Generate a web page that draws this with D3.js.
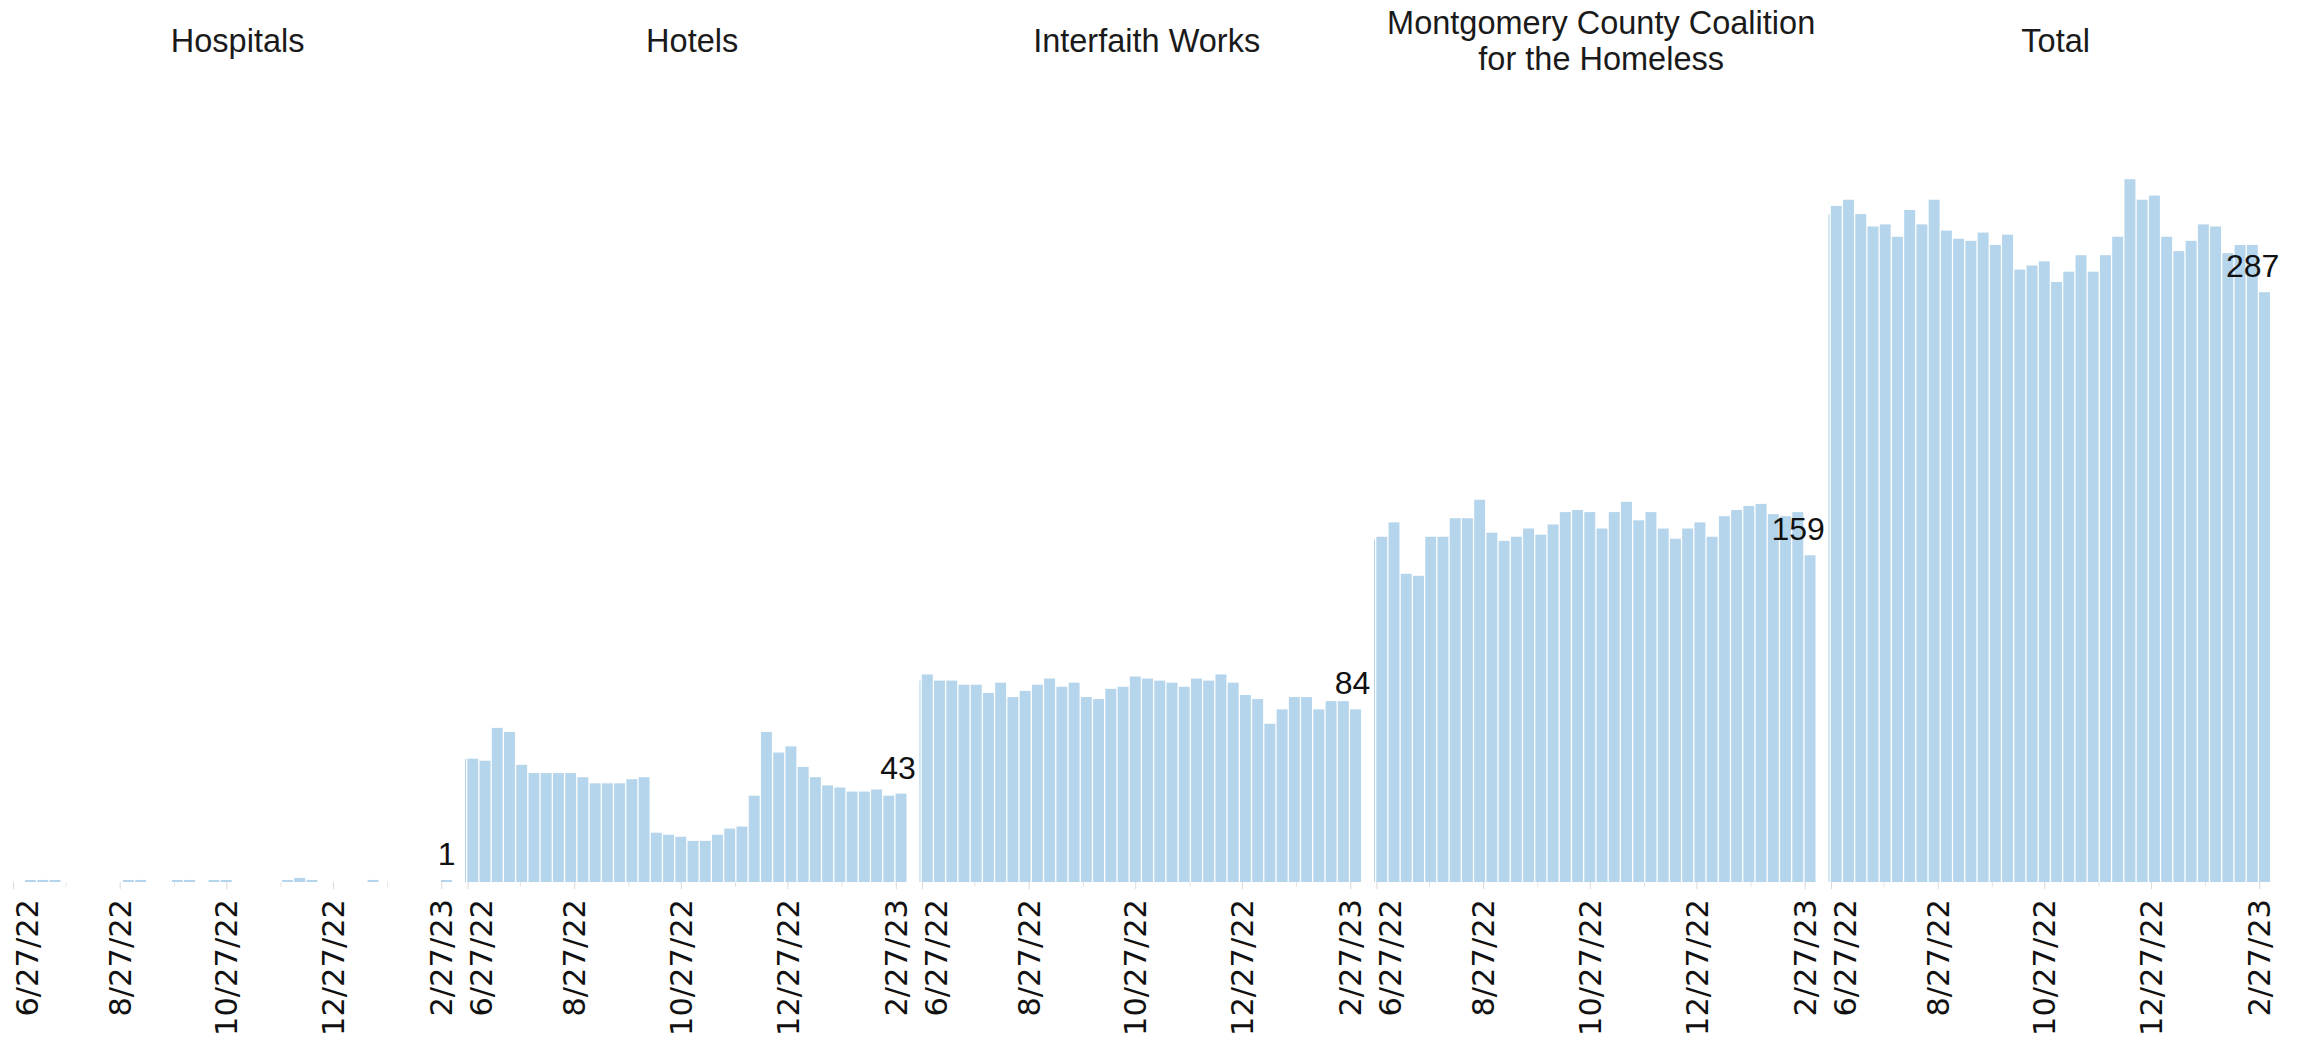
<!DOCTYPE html>
<html>
<head>
<meta charset="utf-8">
<script src="https://cdn.jsdelivr.net/npm/d3@7"></script>
<style>
  body { margin: 0; background: #fff; }
  svg { display: block; }
</style>
</head>
<body>
<div id="chart"></div>
<script>
// weekly dates (Thursdays)
const weeks = [
  "2022-06-23", "2022-06-30", "2022-07-07", "2022-07-14", "2022-07-21", "2022-07-28",
  "2022-08-04", "2022-08-11", "2022-08-18", "2022-08-25", "2022-09-01", "2022-09-08",
  "2022-09-15", "2022-09-22", "2022-09-29", "2022-10-06", "2022-10-13", "2022-10-20",
  "2022-10-27", "2022-11-03", "2022-11-10", "2022-11-17", "2022-11-24", "2022-12-01",
  "2022-12-08", "2022-12-15", "2022-12-22", "2022-12-29", "2023-01-05", "2023-01-12",
  "2023-01-19", "2023-01-26", "2023-02-02", "2023-02-09", "2023-02-16", "2023-02-23",
  "2023-03-02"
];

const panelTitles = [
  ["Hospitals"],
  ["Hotels"],
  ["Interfaith Works"],
  ["Montgomery County Coalition", "for the Homeless"],
  ["Total"]
];

const hospitals = [0, 0, 1, 1, 1, 0, 0, 0, 0, 0, 1, 1, 0, 0, 1, 1, 0, 1, 1, 0, 0, 0, 0, 1, 2, 1, 0, 0, 0, 0, 1, 0, 0, 0, 0, 0, 1];
const hotels = [60, 60, 59, 75, 73, 57, 53, 53, 53, 53, 51, 48, 48, 48, 50, 51, 24, 23, 22, 20, 20, 23, 26, 27, 42, 73, 63, 66, 56, 51, 47, 46, 44, 44, 45, 42, 43];
const interfaith = [98, 101, 98, 98, 96, 96, 92, 97, 90, 93, 96, 99, 95, 97, 90, 89, 94, 95, 100, 99, 98, 97, 95, 99, 98, 101, 97, 91, 89, 77, 84, 90, 90, 84, 88, 88, 84];
const mcch = [167, 168, 175, 150, 149, 168, 168, 177, 177, 186, 170, 166, 168, 172, 169, 174, 180, 181, 180, 172, 180, 185, 176, 180, 172, 167, 172, 175, 168, 178, 181, 183, 184, 179, 178, 180, 159];
const total = [325, 329, 332, 325, 319, 320, 314, 327, 320, 332, 317, 313, 312, 316, 310, 315, 298, 300, 302, 292, 297, 305, 297, 305, 314, 342, 332, 334, 314, 307, 312, 320, 319, 306, 310, 310, 287];

const tickDates = ["2022-06-27", "2022-08-27", "2022-10-27", "2022-12-27", "2023-02-27"];
const minorTickDates = ["2022-07-27", "2022-09-27", "2022-11-27", "2023-01-27"];

const series = [hospitals, hotels, interfaith, mcch, total];

// layout
const width = 2308;
const height = 1043;
const firstLeft = 10.4;
const pitch = 454.5;
const plotWidth = 444;
const baseY = 882;
const pxPerUnit = 2.055;
const barColor = "#b4d5eb";

const parse = d3.utcParse("%Y-%m-%d");
const dates = weeks.map(parse);

const x = d3.scaleUtc()
    .domain([Date.UTC(2022, 5, 25, 12), Date.UTC(2023, 2, 6, 12)])
    .range([0, plotWidth]);

const y = d3.scaleLinear()
    .domain([0, 350])
    .range([baseY, baseY - 350 * pxPerUnit]);

const barW = x(d3.utcDay.offset(dates[0], 7)) - x(dates[0]) - 1.3;

// attach first so text can be measured
const svg = d3.select("#chart").append("svg")
    .attr("width", width)
    .attr("height", height);

svg.append("defs").append("clipPath")
    .attr("id", "pane-clip")
  .append("rect")
    .attr("x", 0)
    .attr("y", 0)
    .attr("width", plotWidth)
    .attr("height", height);

series.forEach((values, p) => {
  const left = firstLeft + p * pitch;
  const g = svg.append("g").attr("transform", `translate(${left},0)`);

  // title
  const lines = panelTitles[p];
  const baselines = lines.length === 1 ? [52] : [34, 70];
  g.append("text")
      .attr("x", pitch / 2)
      .attr("text-anchor", "middle")
      .style("font-family", "'Liberation Sans', Arial, sans-serif")
      .style("font-size", "32.5px")
      .attr("fill", "#1a1a1a")
    .selectAll("tspan")
    .data(lines)
    .join("tspan")
      .attr("x", pitch / 2)
      .attr("y", (d, i) => baselines[i])
      .text(d => d);

  // bars
  g.append("g")
      .attr("clip-path", "url(#pane-clip)")
    .selectAll("rect")
    .data(values)
    .join("rect")
      .attr("x", (d, i) => x(dates[i]) - barW / 2)
      .attr("y", d => y(d))
      .attr("width", barW)
      .attr("height", d => y(0) - y(d))
      .attr("fill", barColor);

  // minor ticks
  const minor = g.append("g")
      .attr("transform", `translate(0,${baseY})`)
      .call(d3.axisBottom(x)
        .tickValues(minorTickDates.map(parse))
        .tickSize(5)
        .tickFormat(""));
  minor.select(".domain").remove();
  minor.selectAll("line").attr("stroke", "#e3e3e3");

  // major ticks + labels
  const axis = g.append("g")
      .attr("transform", `translate(0,${baseY})`)
      .call(d3.axisBottom(x)
        .tickValues(tickDates.map(parse))
        .tickSize(7)
        .tickFormat(d3.utcFormat("%-m/%-d/%y")));
  axis.select(".domain").remove();
  axis.selectAll("line").attr("stroke", "#d9d9d9");
  axis.selectAll("text")
      .attr("transform", "rotate(-90)")
      .attr("x", -17)
      .attr("y", d => Math.max(0, 16 - x(d)))
      .attr("dy", "0.35em")
      .style("text-anchor", "end")
      .style("font-family", "'DejaVu Sans', Verdana, sans-serif")
      .style("font-size", "30.5px")
      .attr("fill", "#111");

  // last value label, kept inside the pane
  const last = values.length - 1;
  const label = g.append("text")
      .attr("y", y(values[last]) - 15)
      .attr("text-anchor", "end")
      .style("font-family", "'Liberation Sans', Arial, sans-serif")
      .style("font-size", "32px")
      .attr("fill", "#111")
      .text(values[last]);
  const w = label.node().getComputedTextLength();
  label.attr("x", Math.min(x(dates[last]) + w / 2, 451));
});
</script>
</body>
</html>
